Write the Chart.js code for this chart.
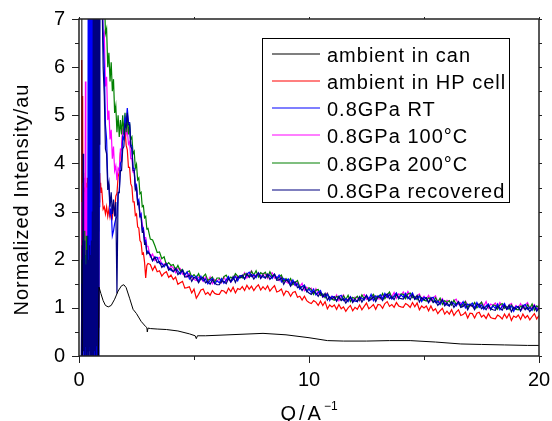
<!DOCTYPE html>
<html lang="en">
<head>
<meta charset="UTF-8">
<title>Normalized Intensity vs Q</title>
<script src="https://cdn.jsdelivr.net/npm/chart.js"></script>
<style>
  body { margin: 0; background: #fff; }
</style>
</head>
<body>
<canvas id="sqChart" width="552" height="421"></canvas>
<script>
// Q grid (1/A) shared by the noisy high-pressure / HP-cell series
const qGrid = [
  0.10, 0.12, 0.14, 0.16, 0.18, 0.20, 0.22, 0.24, 0.26, 0.28,
  0.30, 0.32, 0.34, 0.36, 0.38, 0.40, 0.42, 0.44, 0.46, 0.48,
  0.50, 0.52, 0.54, 0.56, 0.58, 0.60, 0.62, 0.64, 0.66, 0.68,
  0.70, 0.72, 0.74, 0.76, 0.78, 0.80, 0.82, 0.84, 0.86, 0.88,
  0.90, 0.92, 0.94, 0.96, 0.98,
  1.00, 1.05, 1.10, 1.15, 1.20, 1.25, 1.30, 1.35, 1.40, 1.45,
  1.50, 1.55, 1.60, 1.65, 1.70, 1.75, 1.80, 1.85, 1.90, 1.95,
  2.00, 2.05, 2.10, 2.15, 2.20, 2.25, 2.30, 2.35, 2.40, 2.45,
  2.50, 2.55, 2.60, 2.65, 2.70, 2.75, 2.80, 2.85, 2.90, 2.95, 3.00,
  3.1, 3.2, 3.3, 3.4, 3.5, 3.6, 3.7, 3.8, 3.9, 4.0,
  4.1, 4.2, 4.3, 4.4, 4.5, 4.6, 4.7, 4.8, 4.9, 5.0,
  5.1, 5.2, 5.3, 5.4, 5.5, 5.6, 5.7, 5.8, 5.9, 6.0,
  6.1, 6.2, 6.3, 6.4, 6.5, 6.6, 6.7, 6.8, 6.9, 7.0,
  7.1, 7.2, 7.3, 7.4, 7.5, 7.6, 7.7, 7.8, 7.9, 8.0,
  8.1, 8.2, 8.3, 8.4, 8.5, 8.6, 8.7, 8.8, 8.9, 9.0,
  9.1, 9.2, 9.3, 9.4, 9.5, 9.6, 9.7, 9.8, 9.9, 10.0,
  10.1, 10.2, 10.3, 10.4, 10.5, 10.6, 10.7, 10.8, 10.9, 11.0,
  11.1, 11.2, 11.3, 11.4, 11.5, 11.6, 11.7, 11.8, 11.9, 12.0,
  12.1, 12.2, 12.3, 12.4, 12.5, 12.6, 12.7, 12.8, 12.9, 13.0,
  13.1, 13.2, 13.3, 13.4, 13.5, 13.6, 13.7, 13.8, 13.9, 14.0,
  14.1, 14.2, 14.3, 14.4, 14.5, 14.6, 14.7, 14.8, 14.9, 15.0,
  15.1, 15.2, 15.3, 15.4, 15.5, 15.6, 15.7, 15.8, 15.9, 16.0,
  16.1, 16.2, 16.3, 16.4, 16.5, 16.6, 16.7, 16.8, 16.9, 17.0,
  17.1, 17.2, 17.3, 17.4, 17.5, 17.6, 17.7, 17.8, 17.9, 18.0,
  18.1, 18.2, 18.3, 18.4, 18.5, 18.6, 18.7, 18.8, 18.9, 19.0,
  19.1, 19.2, 19.3, 19.4, 19.5, 19.6, 19.7, 19.8, 19.9, 20.0
];

// ambient in can has its own (smooth) Q points
const qCan = [
  0.12, 0.14, 0.50, 0.84, 0.87, 0.95, 1.05, 1.15, 1.27, 1.40,
  1.55, 1.70, 1.85, 1.95, 2.05, 2.20, 2.35, 2.50, 2.70, 2.90,
  2.95, 2.97, 3.0, 3.1, 3.4, 3.8, 4.3, 4.8, 5.05, 5.1,
  5.15, 5.5, 6.0, 7.0, 8.0, 9.0, 10.0, 10.8, 11.5, 12.5,
  13.5, 14.4, 15.5, 16.6, 17.5, 18.5, 19.5, 20.0
];
const iCan = [
  9, -0.3, -0.3, -0.3, 1.43, 1.3, 1.15, 1.05, 1.02, 1.05,
  1.18, 1.35, 1.46, 1.48, 1.42, 1.2, 0.97, 0.88, 0.72, 0.61,
  0.59, 0.5, 0.58, 0.57, 0.56, 0.55, 0.52, 0.46, 0.42, 0.36,
  0.42, 0.42, 0.43, 0.45, 0.47, 0.44, 0.38, 0.32, 0.31, 0.31,
  0.32, 0.32, 0.29, 0.25, 0.24, 0.23, 0.22, 0.22
];

const iHpCell = [
  0, 6.15, 0.3, 5.4, 0.8, 3.8, 0.4, 3.5, 1.0, 3.6,
  0.5, 3.3, 0.9, 3.7, 0.3, 3.2, 1.1, 3.5, 0.6, 3.4,
  0.8, 3.6, 0.4, 3.3, 1.0, 3.5, 0.5, 3.2, 0.7, 3.4,
  4.35, 0.9, 3.3, 0.5, 3.6, 0.8, 3.4, 0.6, 3.7, 3.2,
  3.8, 3.5, 3.6, 3.4, 3.5,
  3.4, 3.05, 3.1, 2.95, 3.1, 2.9, 3.05, 2.88, 3.0, 2.88,
  3.08, 3.02, 3.32, 3.38, 3.72, 3.82, 4.22, 4.32, 4.66, 4.62,
  4.72, 4.38, 4.28, 3.92, 3.92, 3.58, 3.52, 3.2, 3.2, 2.92,
  2.95, 2.68, 2.66, 2.4, 2.36, 2.12, 2.14, 1.95, 1.62, 1.88, 1.92,
  1.90, 1.78, 1.87, 1.75, 1.77, 1.66, 1.72, 1.75, 1.63, 1.68,
  1.59, 1.64, 1.49, 1.52, 1.55, 1.41, 1.42, 1.44, 1.31, 1.39,
  1.20, 1.28, 1.37, 1.39, 1.28, 1.32, 1.26, 1.36, 1.30, 1.28,
  1.28, 1.36, 1.35, 1.30, 1.41, 1.34, 1.43, 1.31, 1.40, 1.38,
  1.44, 1.36, 1.47, 1.39, 1.45, 1.36, 1.43, 1.48, 1.37, 1.44,
  1.38, 1.46, 1.35, 1.41, 1.46, 1.33, 1.35, 1.39, 1.26, 1.35,
  1.33, 1.24, 1.32, 1.34, 1.22, 1.24, 1.16, 1.24, 1.15, 1.11,
  1.09, 1.15, 1.12, 1.05, 1.14, 1.05, 1.13, 0.98, 1.06, 1.02,
  1.06, 0.97, 1.07, 0.98, 1.02, 0.93, 1.00, 1.05, 0.94, 1.01,
  0.97, 1.06, 0.96, 1.03, 1.10, 0.98, 1.02, 1.07, 0.97, 1.07,
  1.06, 0.99, 1.09, 1.13, 1.03, 1.07, 1.01, 1.11, 1.04, 1.02,
  1.01, 1.09, 1.06, 1.01, 1.11, 1.02, 1.10, 0.96, 1.04, 1.00,
  1.04, 0.94, 1.04, 0.94, 0.98, 0.88, 0.94, 0.99, 0.87, 0.93,
  0.87, 0.96, 0.84, 0.91, 0.96, 0.84, 0.86, 0.91, 0.79, 0.89,
  0.88, 0.79, 0.89, 0.91, 0.81, 0.85, 0.78, 0.88, 0.80, 0.78,
  0.77, 0.85, 0.82, 0.77, 0.87, 0.79, 0.88, 0.74, 0.83, 0.80,
  0.85, 0.76, 0.87, 0.79, 0.84, 0.75, 0.82, 0.88, 0.77, 0.84
];

const iRT = [
  0, 1.5, 0, 1.8, 0.2, 1.6, 0, 2.0, 0.1, 1.7,
  0, 1.9, 0.2, 1.5, 0, 8, 0, 8, 0.1, 8,
  0, 8, 0, 8, 0.2, 8, 0, 2.5, 0, 3.0,
  0.1, 2.2, 0, 2.8, 0, 2.4, 0, 2.6, 0, 3.1,
  6.5, 8, 7.5, 8, 7.9,
  7.8, 6.6, 6.0, 4.8, 4.5, 3.65, 3.55, 2.95, 3.05, 2.5,
  2.6, 2.75, 2.85, 2.9, 3.35, 3.4, 4.0, 4.05, 4.55, 4.5,
  4.95, 4.85, 5.15, 4.85, 4.85, 4.4, 4.35, 3.9, 3.9, 3.5,
  3.55, 3.2, 3.25, 2.9, 2.95, 2.62, 2.65, 2.36, 2.4, 2.15, 2.18,
  2.09, 1.98, 2.05, 2.05, 1.92, 1.93, 1.85, 1.92, 1.83, 1.78,
  1.75, 1.81, 1.77, 1.70, 1.78, 1.68, 1.75, 1.60, 1.67, 1.62,
  1.66, 1.56, 1.66, 1.56, 1.60, 1.50, 1.57, 1.61, 1.50, 1.56,
  1.52, 1.61, 1.51, 1.58, 1.65, 1.54, 1.59, 1.65, 1.56, 1.67,
  1.67, 1.60, 1.70, 1.74, 1.65, 1.69, 1.63, 1.73, 1.66, 1.64,
  1.62, 1.69, 1.67, 1.61, 1.70, 1.61, 1.68, 1.54, 1.61, 1.57,
  1.60, 1.49, 1.58, 1.47, 1.50, 1.39, 1.44, 1.47, 1.34, 1.39,
  1.32, 1.39, 1.27, 1.32, 1.36, 1.23, 1.24, 1.28, 1.15, 1.24,
  1.22, 1.14, 1.23, 1.26, 1.15, 1.19, 1.13, 1.23, 1.16, 1.14,
  1.13, 1.22, 1.20, 1.16, 1.26, 1.18, 1.28, 1.15, 1.25, 1.22,
  1.27, 1.19, 1.30, 1.22, 1.27, 1.18, 1.25, 1.31, 1.20, 1.27,
  1.22, 1.30, 1.19, 1.25, 1.31, 1.18, 1.20, 1.24, 1.13, 1.22,
  1.20, 1.11, 1.20, 1.22, 1.11, 1.14, 1.07, 1.17, 1.09, 1.06,
  1.04, 1.12, 1.09, 1.04, 1.13, 1.05, 1.13, 1.00, 1.08, 1.05,
  1.10, 1.00, 1.11, 1.01, 1.06, 0.97, 1.04, 1.08, 0.97, 1.04,
  0.99, 1.08, 0.96, 1.03, 1.09, 0.97, 1.00, 1.04, 0.93, 1.03,
  1.02, 0.94, 1.04, 1.07, 0.97, 1.01, 0.95, 1.05, 0.98, 0.96
];

const i100C = [
  0, 3.2, 1.0, 3.6, 1.5, 3.4, 0.8, 3.7, 2.0, 5.7,
  1.2, 3.5, 1.6, 3.3, 1.1, 3.6, 1.8, 3.2, 1.4, 3.5,
  1.0, 3.4, 1.7, 3.1, 1.2, 3.6, 1.5, 3.0, 1.0, 3.2,
  1.4, 2.9, 1.1, 3.3, 1.5, 3.0, 1.2, 8, 8, 8,
  7.8, 8, 8, 7.7, 8,
  7.9, 6.6, 6.7, 5.6, 5.8, 4.9, 5.1, 4.5, 4.7, 4.1,
  4.35, 3.85, 3.95, 3.65, 3.9, 3.85, 4.3, 4.3, 4.7, 4.65,
  4.85, 4.6, 4.7, 4.4, 4.45, 4.1, 4.1, 3.82, 3.8, 3.52,
  3.5, 3.22, 3.2, 2.95, 2.95, 2.72, 2.66, 2.45, 2.46, 2.28, 2.28,
  2.06, 2.12, 1.98, 2.02, 2.05, 1.90, 1.91, 1.93, 1.80, 1.87,
  1.83, 1.73, 1.81, 1.82, 1.70, 1.72, 1.64, 1.72, 1.63, 1.59,
  1.57, 1.64, 1.61, 1.55, 1.64, 1.55, 1.64, 1.50, 1.59, 1.55,
  1.61, 1.52, 1.64, 1.55, 1.61, 1.53, 1.62, 1.68, 1.59, 1.67,
  1.63, 1.73, 1.62, 1.70, 1.77, 1.65, 1.68, 1.73, 1.62, 1.72,
  1.70, 1.61, 1.71, 1.73, 1.62, 1.65, 1.57, 1.66, 1.57, 1.54,
  1.51, 1.57, 1.53, 1.46, 1.54, 1.44, 1.51, 1.36, 1.43, 1.38,
  1.41, 1.30, 1.40, 1.29, 1.32, 1.22, 1.27, 1.31, 1.18, 1.24,
  1.18, 1.27, 1.15, 1.22, 1.27, 1.15, 1.18, 1.23, 1.12, 1.22,
  1.21, 1.14, 1.24, 1.28, 1.18, 1.22, 1.17, 1.27, 1.21, 1.19,
  1.18, 1.27, 1.25, 1.21, 1.31, 1.23, 1.32, 1.20, 1.29, 1.26,
  1.33, 1.23, 1.34, 1.24, 1.29, 1.19, 1.25, 1.29, 1.18, 1.24,
  1.18, 1.26, 1.14, 1.20, 1.25, 1.12, 1.14, 1.19, 1.07, 1.16,
  1.14, 1.06, 1.15, 1.18, 1.07, 1.11, 1.04, 1.14, 1.06, 1.04,
  1.03, 1.10, 1.08, 1.02, 1.12, 1.04, 1.13, 0.99, 1.08, 1.05,
  1.10, 1.01, 1.11, 1.02, 1.07, 0.98, 1.05, 1.09, 0.98, 1.05,
  1.00, 1.09, 0.98, 1.05, 1.11, 0.99, 1.02, 1.07, 0.96, 1.06
];

const i200C = [
  0, 2.0, 0.3, 2.4, 0.5, 2.2, 0.2, 2.6, 0.4, 2.1,
  0.3, 2.5, 0.6, 2.3, 0.2, 2.4, 0.5, 2.0, 0.3, 2.6,
  0.4, 2.2, 0.2, 2.5, 0.5, 2.1, 0.3, 2.4, 0.6, 2.2,
  0.2, 2.5, 0.4, 2.3, 0.3, 2.0, 0.5, 2.6, 9, 9,
  9, 9, 9, 9, 9,
  9, 9, 7.6, 6.7, 6.8, 6.0, 6.3, 5.7, 6.1, 5.5,
  5.75, 5.05, 5.2, 4.65, 5.0, 4.55, 4.9, 4.6, 5.0, 4.6,
  5.05, 4.65, 4.95, 4.6, 4.85, 4.5, 4.55, 4.2, 4.25, 3.9,
  3.98, 3.66, 3.7, 3.37, 3.4, 3.1, 3.12, 2.87, 2.9, 2.64, 2.65,
  2.43, 2.41, 2.29, 2.15, 2.16, 2.02, 2.06, 1.89, 1.94, 1.88,
  1.90, 1.79, 1.88, 1.77, 1.80, 1.69, 1.74, 1.77, 1.64, 1.69,
  1.63, 1.71, 1.59, 1.65, 1.70, 1.57, 1.60, 1.64, 1.53, 1.62,
  1.62, 1.54, 1.65, 1.68, 1.59, 1.64, 1.60, 1.71, 1.66, 1.65,
  1.62, 1.71, 1.69, 1.65, 1.76, 1.68, 1.77, 1.64, 1.73, 1.70,
  1.74, 1.64, 1.75, 1.65, 1.69, 1.59, 1.64, 1.68, 1.55, 1.61,
  1.54, 1.61, 1.48, 1.53, 1.57, 1.43, 1.44, 1.47, 1.34, 1.42,
  1.38, 1.28, 1.37, 1.38, 1.26, 1.29, 1.21, 1.30, 1.21, 1.18,
  1.16, 1.24, 1.21, 1.16, 1.25, 1.17, 1.26, 1.13, 1.22, 1.19,
  1.24, 1.16, 1.27, 1.19, 1.24, 1.15, 1.23, 1.28, 1.18, 1.25,
  1.20, 1.30, 1.19, 1.27, 1.33, 1.21, 1.24, 1.30, 1.19, 1.29,
  1.28, 1.19, 1.29, 1.31, 1.21, 1.24, 1.17, 1.26, 1.19, 1.16,
  1.14, 1.21, 1.18, 1.12, 1.21, 1.12, 1.20, 1.07, 1.15, 1.11,
  1.15, 1.06, 1.16, 1.07, 1.11, 1.02, 1.08, 1.13, 1.01, 1.08,
  1.03, 1.11, 1.00, 1.06, 1.12, 1.00, 1.03, 1.07, 0.96, 1.06,
  1.05, 0.97, 1.06, 1.09, 0.99, 1.03, 0.97, 1.06, 0.99, 0.97,
  0.96, 1.04, 1.02, 0.97, 1.07, 0.99, 1.08, 0.95, 1.04, 1.01
];

const iRecovered = [
  0, 0, 2.3, 0, 4.2, 0.1, 2.1, 0, 2.4, 0.2,
  1.9, 0, 2.2, 0.1, 2.5, 0, 2.0, 0.2, 2.3, 0,
  2.1, 0.1, 2.4, 0, 3.0, 0, 8, 0, 8, 0.1,
  8, 0, 8, 0.2, 8, 0, 8, 0, 8, 4.4,
  8, 7.8, 8, 7.6, 7.8,
  7.5, 6.0, 5.4, 4.3, 4.2, 3.45, 3.6, 3.1, 3.4, 2.95,
  3.25, 2.9, 3.2, 1.3, 3.4, 3.4, 3.85, 3.85, 4.3, 4.35,
  4.8, 4.75, 5.05, 4.8, 4.8, 4.35, 4.3, 3.85, 3.85, 3.45,
  3.5, 3.15, 3.18, 2.9, 2.88, 2.58, 2.6, 2.33, 2.35, 2.12, 2.15,
  2.10, 1.98, 2.06, 1.94, 1.96, 1.84, 1.89, 1.91, 1.78, 1.82,
  1.75, 1.82, 1.69, 1.74, 1.78, 1.64, 1.65, 1.68, 1.55, 1.63,
  1.61, 1.52, 1.61, 1.63, 1.52, 1.55, 1.49, 1.58, 1.51, 1.48,
  1.48, 1.56, 1.55, 1.50, 1.61, 1.54, 1.65, 1.53, 1.64, 1.62,
  1.68, 1.60, 1.71, 1.63, 1.69, 1.60, 1.67, 1.72, 1.61, 1.68,
  1.62, 1.70, 1.59, 1.65, 1.70, 1.57, 1.58, 1.62, 1.49, 1.58,
  1.55, 1.45, 1.53, 1.54, 1.42, 1.44, 1.36, 1.44, 1.35, 1.31,
  1.28, 1.34, 1.31, 1.24, 1.32, 1.23, 1.30, 1.16, 1.23, 1.19,
  1.23, 1.14, 1.24, 1.15, 1.19, 1.10, 1.17, 1.22, 1.11, 1.18,
  1.13, 1.23, 1.12, 1.20, 1.26, 1.14, 1.18, 1.23, 1.13, 1.23,
  1.22, 1.15, 1.25, 1.29, 1.19, 1.23, 1.17, 1.28, 1.21, 1.19,
  1.18, 1.25, 1.23, 1.17, 1.27, 1.18, 1.26, 1.12, 1.21, 1.17,
  1.21, 1.11, 1.21, 1.11, 1.15, 1.05, 1.11, 1.16, 1.04, 1.10,
  1.04, 1.13, 1.01, 1.08, 1.13, 1.01, 1.03, 1.08, 0.96, 1.06,
  1.05, 0.96, 1.06, 1.08, 0.98, 1.02, 0.96, 1.05, 0.98, 0.96,
  0.95, 1.03, 1.00, 0.95, 1.05, 0.97, 1.06, 0.92, 1.01, 0.98,
  1.03, 0.94, 1.05, 0.96, 1.01, 0.92, 0.99, 1.04, 0.93, 1.00
];

const seriesNames = [
  'ambient in can', 'ambient in HP cell', '0.8GPa RT',
  '0.8GPa 100°C', '0.8GPa 200°C', '0.8GPa recovered'
];
const seriesColors = ['#000000', '#ff0000', '#0000ff', '#ff00ff', '#008000', '#000080'];
const xTickMarks = [0, 5, 10, 15, 20];
const yTickMarks = [0, 0.5, 1, 1.5, 2, 2.5, 3, 3.5, 4, 4.5, 5, 5.5, 6, 6.5, 7];
const xTitle = 'Q/A';
const xTitleSup = '\u22121';
const yTitle = 'Normalized Intensity/au';

function toPoints(qs, vals) {
  return qs.map((q, i) => ({ x: q, y: vals[i] }));
}

const seriesData = [
  toPoints(qCan, iCan),
  toPoints(qGrid, iHpCell),
  toPoints(qGrid, iRT),
  toPoints(qGrid, i100C),
  toPoints(qGrid, i200C),
  toPoints(qGrid, iRecovered)
];
// lower order is drawn on top
const drawOrder = [0, 5, 2, 4, 3, 1];

const FONT = '"Liberation Sans", Arial, sans-serif';
Chart.defaults.font.family = FONT;
Chart.defaults.color = '#000';

// frame + outward tick marks on all four sides
const frameTicks = {
  id: 'frameTicks',
  afterDatasetsDraw(chart) {
    const { ctx, chartArea: a, scales: { x, y } } = chart;
    ctx.save();
    ctx.strokeStyle = '#222';
    ctx.lineWidth = 1;
    ctx.beginPath();
    xTickMarks.forEach(v => {
      const px = Math.round(x.getPixelForValue(v)) + 0.5;
      const len = v % 10 === 0 ? 7 : 4;
      ctx.moveTo(px, a.bottom);
      ctx.lineTo(px, a.bottom + len);
      ctx.moveTo(px, a.top);
      ctx.lineTo(px, a.top - 2);
    });
    yTickMarks.forEach(v => {
      const py = Math.round(y.getPixelForValue(v)) + 0.5;
      const len = Number.isInteger(v) ? 7 : 4;
      ctx.moveTo(a.left, py);
      ctx.lineTo(a.left - len, py);
      ctx.moveTo(a.right, py);
      ctx.lineTo(a.right + 3, py);
    });
    ctx.stroke();
    ctx.lineWidth = 1.5;
    ctx.strokeRect(a.left, a.top, a.right - a.left, a.bottom - a.top);
    ctx.restore();
  }
};

// boxed legend inside the plot + axis titles
const boxLegend = {
  id: 'boxLegend',
  afterDraw(chart) {
    const { ctx, chartArea: a } = chart;
    const bx = a.left + 183, by = a.top + 19, bw = 247, bh = 164;
    ctx.save();
    ctx.fillStyle = '#fff';
    ctx.fillRect(bx, by, bw, bh);
    ctx.strokeStyle = '#000';
    ctx.lineWidth = 1;
    ctx.strokeRect(bx + 0.5, by + 0.5, bw, bh);
    ctx.font = '20px ' + FONT;
    ctx.letterSpacing = '1px';
    ctx.textBaseline = 'middle';
    seriesNames.forEach((name, i) => {
      const ly = Math.round(by + 15.5 + i * 27.3);
      ctx.strokeStyle = seriesColors[i];
      ctx.lineWidth = 1.2;
      ctx.beginPath();
      ctx.moveTo(bx + 10, ly);
      ctx.lineTo(bx + 58, ly);
      ctx.stroke();
      ctx.fillStyle = '#000';
      ctx.fillText(name, bx + 65, ly + 2);
    });
    ctx.restore();

    // y title
    ctx.save();
    ctx.fillStyle = '#000';
    ctx.font = '20px ' + FONT;
    ctx.letterSpacing = '1px';
    ctx.translate(22, (a.top + a.bottom) / 2 + 12);
    ctx.rotate(-Math.PI / 2);
    ctx.textAlign = 'center';
    ctx.textBaseline = 'middle';
    ctx.fillText(yTitle, 0, 0);
    ctx.restore();

    // x title with superscript
    ctx.save();
    ctx.fillStyle = '#000';
    ctx.font = '20px ' + FONT;
    ctx.letterSpacing = '3px';
    const w1 = ctx.measureText(xTitle).width;
    ctx.font = '12px ' + FONT;
    ctx.letterSpacing = '0px';
    const w2 = ctx.measureText(xTitleSup).width;
    const x0 = (a.left + a.right) / 2 - (w1 + w2) / 2;
    ctx.textAlign = 'left';
    ctx.textBaseline = 'alphabetic';
    ctx.font = '20px ' + FONT;
    ctx.letterSpacing = '3px';
    ctx.fillText(xTitle, x0, a.bottom + 64);
    ctx.font = '12px ' + FONT;
    ctx.letterSpacing = '0px';
    ctx.fillText(xTitleSup, x0 + w1, a.bottom + 54);
    ctx.restore();
  }
};

function noEdgePadding(s) {
  s.paddingLeft = 0;
  s.paddingRight = 0;
  s.paddingTop = 0;
  s.paddingBottom = 0;
}

const ctx = document.getElementById('sqChart').getContext('2d');
new Chart(ctx, {
  type: 'line',
  data: {
    datasets: seriesNames.map((name, i) => ({
      label: name,
      data: seriesData[i],
      borderColor: seriesColors[i],
      backgroundColor: seriesColors[i],
      borderWidth: i === 0 ? 1 : 1.2,
      pointRadius: 0,
      tension: 0,
      fill: false,
      clip: 0,
      order: drawOrder[i]
    }))
  },
  options: {
    responsive: false,
    animation: false,
    devicePixelRatio: 1,
    layout: { padding: { top: 19, right: 13, left: 0, bottom: 0 } },
    plugins: {
      legend: { display: false },
      tooltip: { enabled: false }
    },
    scales: {
      x: {
        type: 'linear',
        min: 0,
        max: 20,
        ticks: { stepSize: 10, padding: 12, maxRotation: 0, font: { size: 20 }, color: '#000' },
        grid: { display: false, drawTicks: false },
        border: { display: false },
        afterFit(s) { s.height = 65; noEdgePadding(s); }
      },
      y: {
        min: 0,
        max: 7,
        ticks: { stepSize: 1, padding: 14, font: { size: 20 }, color: '#000' },
        grid: { display: false, drawTicks: false },
        border: { display: false },
        afterFit(s) { s.width = 79; noEdgePadding(s); }
      }
    }
  },
  plugins: [frameTicks, boxLegend]
});
</script>
</body>
</html>
